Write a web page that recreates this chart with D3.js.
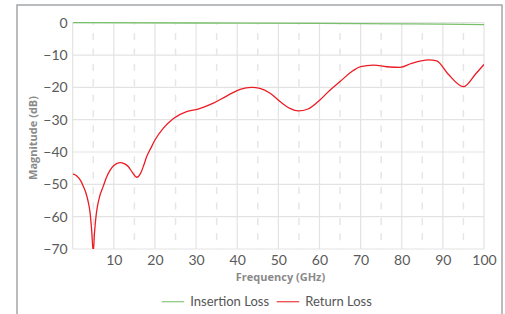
<!DOCTYPE html>
<html>
<head>
<meta charset="utf-8">
<script src="https://cdn.jsdelivr.net/npm/d3@7/dist/d3.min.js"></script>
<style>
  html, body { margin:0; padding:0; background:#fff; }
  svg { display:block; font-family: Lato, "Open Sans", sans-serif; }
</style>
</head>
<body>
<svg id="svg" width="505" height="314"></svg>
<script>
// frequency (GHz) / magnitude (dB)
const rlFreq = [0, 1, 2, 2.6, 3.2, 3.7, 4.2, 4.6, 5.0, 5.3, 5.7, 6.0, 6.6, 7.4, 8.2, 9.1, 10, 11.5, 12.5, 13.5, 14.5, 15.6, 16.5, 17.3, 18, 19, 20, 22, 24.5, 27.7, 30.5, 34.2, 37.4, 40.7, 43.5, 45.5, 48, 50.4, 52.8, 54.9, 57.2, 60.1, 62.6, 65, 68.2, 70, 73.1, 77.1, 79.6, 82.4, 86.5, 88.5, 91.2, 95, 98, 100];
const rlMag  = [-46.8, -47.4, -49, -50.7, -52.6, -55, -58.5, -64, -71, -65, -59.5, -56.9, -53.5, -50.7, -47.9, -45.6, -44.2, -43.3, -43.6, -44.5, -46.3, -47.8, -46.6, -44, -41.4, -38.8, -36.3, -32.7, -29.6, -27.5, -26.7, -24.9, -22.7, -20.6, -20.0, -20.3, -21.8, -24.4, -26.5, -27.3, -26.7, -23.9, -20.8, -18.2, -14.8, -13.6, -13.1, -13.7, -13.8, -12.6, -11.5, -11.8, -15.8, -19.8, -15.8, -12.9];
const ilFreq = [0, 30, 60, 80, 90, 100];
const ilMag  = [0, -0.1, -0.2, -0.35, -0.45, -0.6];
const xTicks = [10, 20, 30, 40, 50, 60, 70, 80, 90, 100];
const xMinor = [5, 15, 25, 35, 45, 55, 65, 75, 85, 95];
const yTicks = [0, -10, -20, -30, -40, -50, -60, -70];
const seriesNames = ['Insertion Loss', 'Return Loss'];
const seriesColors = ['#78c06a', '#ec1c24'];

const svg = d3.select('#svg');
const m = { left:72.7, right:484, top:22.7, bottom:249 };

const x = d3.scaleLinear().domain([0, 100]).range([m.left, m.right]);
const y = d3.scaleLinear().domain([-70, 0]).range([m.bottom, m.top]);

// outer frame
svg.append('rect').attr('x', 17).attr('y', 5).attr('width', 485).attr('height', 330)
  .attr('fill', 'none').attr('stroke', '#a3a7ab').attr('stroke-width', 1.5);

const grid = svg.append('g');
grid.selectAll('.h').data(yTicks).join('line')
  .attr('x1', m.left).attr('x2', m.right).attr('y1', d => y(d)).attr('y2', d => y(d))
  .attr('stroke', '#e3e3e3').attr('stroke-width', 1.2);
grid.selectAll('.v').data([0].concat(xTicks)).join('line')
  .attr('x1', d => x(d)).attr('x2', d => x(d)).attr('y1', m.top).attr('y2', m.bottom)
  .attr('stroke', '#e3e3e3').attr('stroke-width', 1.2);
grid.selectAll('.mv').data(xMinor).join('line')
  .attr('x1', d => x(d)).attr('x2', d => x(d)).attr('y1', m.top).attr('y2', m.bottom)
  .attr('stroke', '#e6e6e6').attr('stroke-width', 1.5)
  .attr('stroke-dasharray', '7,8.4').attr('stroke-dashoffset', 5);

// axes (labels only)
const xAxis = svg.append('g').attr('transform', `translate(0,${m.bottom})`)
  .call(d3.axisBottom(x).tickValues(xTicks).tickSize(0).tickPadding(6));
const yAxis = svg.append('g').attr('transform', `translate(${m.left},0)`)
  .call(d3.axisLeft(y).tickValues(yTicks).tickSize(0).tickPadding(5));
[xAxis, yAxis].forEach(a => {
  a.select('.domain').remove();
  a.selectAll('text').attr('fill', '#5a5a5a').style('font-size', '14px').style('font-family', 'Lato, sans-serif');
});

svg.append('clipPath').attr('id', 'clip').append('rect')
  .attr('x', m.left).attr('y', m.top - 2).attr('width', m.right - m.left).attr('height', m.bottom - m.top + 2);

const line = d3.line().x(d => x(d[0])).y(d => y(d[1])).curve(d3.curveMonotoneX);
const plot = svg.append('g').attr('clip-path', 'url(#clip)');
plot.append('path').datum(d3.zip(ilFreq, ilMag)).attr('d', line)
  .attr('fill', 'none').attr('stroke', seriesColors[0]).attr('stroke-width', 1.3);
plot.append('path').datum(d3.zip(rlFreq, rlMag)).attr('d', line)
  .attr('fill', 'none').attr('stroke', seriesColors[1]).attr('stroke-width', 1.3);

// axis titles
svg.append('text').attr('x', 280.5).attr('y', 281).attr('text-anchor', 'middle')
  .attr('fill', '#8a8a8a').style('font-size', '11px').style('font-weight', 'bold')
  .style('font-family', '"Open Sans", sans-serif').text('Frequency (GHz)');
svg.append('text').attr('transform', 'translate(37,138) rotate(-90)').attr('text-anchor', 'middle')
  .attr('fill', '#8a8a8a').style('font-size', '11px').style('font-weight', 'bold')
  .style('font-family', '"Open Sans", sans-serif').text('Magnitude (dB)');

// legend
const legX = [161.7, 276.7];
const leg = svg.append('g').selectAll('g').data(seriesNames).join('g')
  .attr('transform', (d, i) => `translate(${legX[i]},301.7)`);
leg.append('line').attr('x1', 0).attr('x2', 22.5).attr('y1', 0).attr('y2', 0)
  .attr('stroke', (d, i) => seriesColors[i]).attr('stroke-width', 1.3).attr('opacity', 0.8);
leg.append('text').attr('x', 28.5).attr('y', 4.5).attr('fill', '#555')
  .style('font-size', '13px').text(d => d);
</script>
</body>
</html>
